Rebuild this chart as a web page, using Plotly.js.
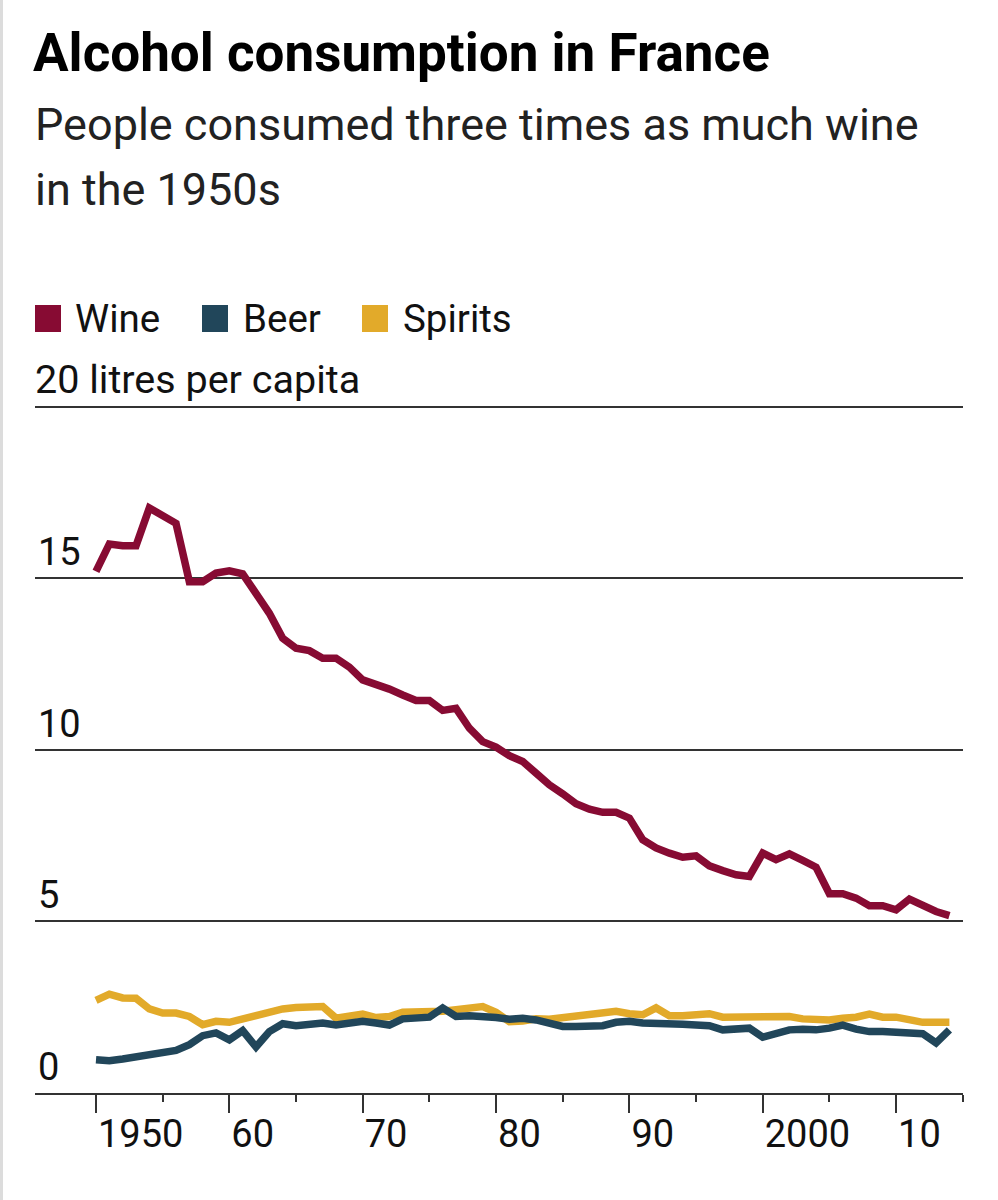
<!DOCTYPE html>
<html>
<head>
<meta charset="utf-8">
<script src="https://cdn.plot.ly/plotly-3.0.1.min.js"></script>
<style>
  html, body { margin: 0; padding: 0; background: #fff; }
  #chart { width: 998px; height: 1200px; }
  #edge { position: absolute; left: 0; top: 0; width: 3px; height: 1200px; background: #dcdcdc; }
</style>
</head>
<body>
<div id="chart"></div>
<div id="edge"></div>
<script>
// ---- data ----
const years = [];
for (let y = 1950; y <= 2014; y++) years.push(y);

const wine = [
  15.2, 16.0, 15.95, 15.95, 17.05, 16.85, 16.6, 14.9, 14.9, 15.15,
  15.22, 15.13, 14.56, 13.98, 13.25, 12.96, 12.89, 12.67, 12.67, 12.41,
  12.04, 11.92, 11.77, 11.6, 11.44, 11.44, 11.15, 11.21, 10.63, 10.24,
  10.08, 9.83, 9.66, 9.32, 8.98, 8.72, 8.43, 8.27, 8.18, 8.18,
  8.01, 7.38, 7.14, 6.99, 6.87, 6.91, 6.62, 6.48, 6.36, 6.31,
  6.99, 6.8, 6.97, 6.78, 6.58, 5.81, 5.81, 5.68, 5.46, 5.46,
  5.34, 5.65, 5.46, 5.29, 5.17
];
const beer = [
  0.97, 0.94, 0.99, 1.05, 1.10, 1.18, 1.24, 1.41, 1.67, 1.75,
  1.55, 1.82, 1.34, 1.79, 2.02, 1.96, 2.0, 2.04, 1.98, 2.04,
  2.09, 2.04, 1.98, 2.16, 2.18, 2.21, 2.48, 2.23, 2.25, 2.25,
  2.2, 2.15, 2.18, 2.13, 2.02, 1.94, 1.94, 1.94, 1.96, 2.06,
  2.09, 2.04, 2.04, 2.0, 2.0, 1.98, 1.96, 1.84, 1.89, 1.89,
  1.63, 1.73, 1.84, 1.86, 1.84, 1.89, 1.98, 1.86, 1.79, 1.79,
  1.77, 1.73, 1.73, 1.46, 1.84
];
const spirits = [
  2.7, 2.88, 2.77, 2.76, 2.45, 2.33, 2.33, 2.23, 1.99, 2.09,
  2.06, 2.16, 2.28, 2.38, 2.45, 2.49, 2.52, 2.52, 2.18, 2.25,
  2.3, 2.2, 2.23, 2.35, 2.35, 2.38, 2.38, 2.43, 2.48, 2.52,
  2.35, 2.08, 2.1, 2.16, 2.15, 2.2, 2.22, 2.26, 2.31, 2.38,
  2.31, 2.28, 2.48, 2.25, 2.25, 2.3, 2.31, 2.21, 2.21, 2.21,
  2.18, 2.21, 2.23, 2.16, 2.13, 2.13, 2.18, 2.21, 2.3, 2.21,
  2.21, 2.12, 2.06, 2.06, 2.06
];

const seriesNames = ["Wine", "Beer", "Spirits"];
const xTickVals = [1950, 1960, 1970, 1980, 1990, 2000, 2010];
const xTickText = ["1950", "60", "70", "80", "90", "2000", "10"];
const xMinorVals = [1955, 1965, 1975, 1985, 1995, 2005, 2015];
const yTickVals = [0, 5, 10, 15, 20];
const yTickText = ["0", "5", "10", "15", ""];
const yUnitValue = 20;
const yUnitLabel = "20 litres per capita";

const titleText = "Alcohol consumption in France";
const subtitleLines = ["People consumed three times as much wine", "in the 1950s"];

// ---- style ----
const colors = { Wine: "#870b33", Beer: "#21465a", Spirits: "#e2aa2a" };
const FONT = "Roboto, 'Noto Sans', sans-serif";

const W = 998, H = 1200;
const M = { l: 35, r: 35, t: 335, b: 107 };
const PW = W - M.l - M.r, PH = H - M.t - M.b;
const Y0 = H - M.b, PXPERUNIT = (Y0 - 406.7) / 20;
const yTop = (Y0 - M.t) / PXPERUNIT;
const px2x = X => (X - M.l) / PW;
const px2y = Y => (H - M.b - Y) / PH;

const traces = [
  { name: "Spirits", x: years, y: spirits },
  { name: "Beer", x: years, y: beer },
  { name: "Wine", x: years, y: wine }
].map(t => ({
  type: "scatter", mode: "lines", x: t.x, y: t.y, name: t.name,
  line: { color: colors[t.name], width: 7.5, shape: "linear" },
  showlegend: false, hoverinfo: "skip", cliponaxis: false
}));

// legend (squares + labels)
const legendPos = { Wine: [35, 75], Beer: [202, 243], Spirits: [362, 403] };
const shapes = [];
const annotations = [];
seriesNames.forEach(n => {
  const [sx, tx] = legendPos[n];
  shapes.push({
    type: "rect", xref: "paper", yref: "paper",
    x0: px2x(sx), x1: px2x(sx + 26), y0: px2y(332), y1: px2y(305),
    fillcolor: colors[n], line: { width: 0 }
  });
  annotations.push({
    xref: "paper", yref: "paper", x: px2x(tx - 2), y: px2y(318),
    xanchor: "left", yanchor: "middle", showarrow: false,
    text: n, font: { family: FONT, size: 38.5, color: "#111" }
  });
});
subtitleLines.forEach((s, i) => {
  annotations.push({
    xref: "paper", yref: "paper", x: px2x(33), y: px2y(125 + i * 64),
    xanchor: "left", yanchor: "middle", showarrow: false,
    text: s, font: { family: FONT, size: 45, color: "#222" }
  });
});
// unit label on the top gridline
annotations.push({
  xref: "paper", yref: "y", x: 0, y: yUnitValue,
  xanchor: "left", yanchor: "bottom", showarrow: false, yshift: 2, xshift: -2,
  text: yUnitLabel, font: { family: FONT, size: 39.5, color: "#111" }
});

const layout = {
  width: W, height: H,
  margin: M,
  paper_bgcolor: "#fff", plot_bgcolor: "#fff",
  showlegend: false,
  title: {
    text: "<b>" + titleText + "</b>",
    x: 33 / W, xref: "container", xanchor: "left",
    y: 1 - 52 / H, yref: "container", yanchor: "middle",
    font: { family: FONT, size: 53, color: "#000" }
  },
  xaxis: {
    range: [1945.425, 2015.02],
    showgrid: false, zeroline: false,
    showline: true, linecolor: "#333", linewidth: 2,
    ticks: "outside", ticklen: 18, tickwidth: 2, tickcolor: "#333",
    tickmode: "array", tickvals: xTickVals, ticktext: xTickText,
    ticklabelposition: "outside right",
    ticklabelstandoff: 6,
    tickfont: { family: FONT, size: 38, color: "#111" },
    minor: { tickmode: "array", tickvals: xMinorVals, ticks: "outside", ticklen: 7, tickwidth: 2, tickcolor: "#333", showgrid: false },
    fixedrange: true, automargin: false
  },
  yaxis: {
    range: [0, yTop],
    showgrid: true, gridcolor: "#333", gridwidth: 2,
    zeroline: false, showline: false, ticks: "",
    tickmode: "array", tickvals: yTickVals, ticktext: yTickText,
    ticklabelposition: "inside top",
    tickfont: { family: FONT, size: 38, color: "#111" },
    fixedrange: true, automargin: false
  },
  shapes: shapes,
  annotations: annotations
};

Plotly.newPlot("chart", traces, layout, { displayModeBar: false, staticPlot: true });
</script>
</body>
</html>
